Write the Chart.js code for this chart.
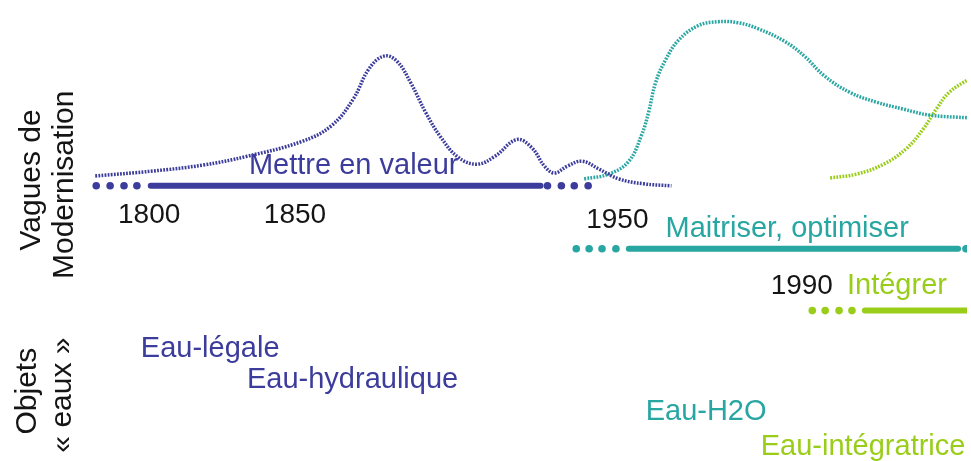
<!DOCTYPE html>
<html>
<head>
<meta charset="utf-8">
<script src="https://cdn.jsdelivr.net/npm/chart.js"></script>
<style>
  body { margin: 0; background: #fff; }
  #wrap { width: 971px; height: 461px; }
</style>
</head>
<body>
<div id="wrap"><canvas id="myChart" width="971" height="461"></canvas></div>
<script>
// couleurs
const bleu = "#3c3c9c"
const turquoise = "#28a6a2"
const vert = "#9acd1a"

// vagues (courbes pointillées), x = position sur la frise, y = hauteur
const vagueBleueX = [92,150,200,245,300,330,352,368,383,396,410,425,440,458,477,495,517,532,545,555,568,583,600,620,645,673]
const vagueBleueY = [175,170,164,155,140,124,97,66,53,58,80,110,135,156,163,155,138,146,165,172,165,160,168,178,183,185]

const vagueTurquoiseX = [585,610,630,643,650,657,667,680,700,720,740,760,787,807,827,853,880,907,933,975]
const vagueTurquoiseY = [178,173,160,133,110,80,57,37,22,18,19,25,38,53,73,90,100,107,113,116]

const vagueVerteX = [833,860,887,910,927,940,953,975]
const vagueVerteY = [177,173,163,147,127,107,90,75]

// périodes (traits pleins + points d'amorce)
const periodeBleue = { debut: 148, fin: 541, y: 185, points: [93,107,121,134,548,562,575,589] }
const periodeTurquoise = { debut: 630, fin: 962, y: 249, points: [577,590,603,617,970] }
const periodeVerte = { debut: 868, fin: 980, y: 312, points: [815,828,842,855] }

// textes
const annees = ["1800", "1850", "1950", "1990"]
const anneesX = [115, 262, 587, 773]
const anneesY = [223, 223, 228, 295]

const vagues = ["Mettre en valeur", "Maitriser, optimiser", "Intégrer"]
const vaguesX = [247, 667, 850]
const vaguesY = [173, 237, 295]

const objets = ["Eau-légale", "Eau-hydraulique", "Eau-H2O", "Eau-intégratrice"]
const objetsX = [138, 245, 647, 763]
const objetsY = [359, 391, 423, 459]

const titres = ["Vagues de", "Modernisation", "Objets", "« eaux »"]
const titresX = [36, 70, 32, 68]
const titresY = [179, 184, 394, 398]

function pts(xs, ys) {
    return xs.map((x, i) => ({ x: x, y: ys[i] }))
}

function courbe(xs, ys, color) {
    return {
        data: pts(xs, ys),
        borderColor: color,
        borderWidth: 3.5,
        borderDash: [1.8, 1.3],
        tension: 0.4,
        pointRadius: 0,
        fill: false
    }
}

function trait(p, color) {
    return {
        data: [{ x: p.debut, y: p.y }, { x: p.fin, y: p.y }],
        borderColor: color,
        borderWidth: 6,
        borderCapStyle: "round",
        pointRadius: 0,
        fill: false
    }
}

function amorce(p, color) {
    return {
        data: p.points.map(x => ({ x: x, y: p.y })),
        showLine: false,
        pointRadius: 3.8,
        pointBorderWidth: 0,
        pointBackgroundColor: color,
        borderColor: color
    }
}

const textes = {
    id: "textes",
    afterDatasetsDraw(chart) {
        const ctx = chart.ctx
        const sx = chart.scales.x
        const sy = chart.scales.y
        ctx.save()
        ctx.textBaseline = "alphabetic"
        ctx.textAlign = "left"

        ctx.font = "28px 'Liberation Sans', Arial, sans-serif"
        ctx.fillStyle = "#151515"
        annees.forEach((t, i) => ctx.fillText(t, sx.getPixelForValue(anneesX[i]), sy.getPixelForValue(anneesY[i])))

        ctx.font = "29px 'Liberation Sans', Arial, sans-serif"
        const coulVagues = [bleu, turquoise, vert]
        vagues.forEach((t, i) => {
            ctx.fillStyle = coulVagues[i]
            ctx.fillText(t, sx.getPixelForValue(vaguesX[i]), sy.getPixelForValue(vaguesY[i]))
        })

        const coulObjets = [bleu, bleu, turquoise, vert]
        objets.forEach((t, i) => {
            ctx.fillStyle = coulObjets[i]
            ctx.fillText(t, sx.getPixelForValue(objetsX[i]), sy.getPixelForValue(objetsY[i]))
        })

        ctx.font = "30px 'Liberation Sans', Arial, sans-serif"
        ctx.fillStyle = "#151515"
        ctx.textAlign = "center"
        titres.forEach((t, i) => {
            ctx.save()
            ctx.translate(sx.getPixelForValue(titresX[i]), sy.getPixelForValue(titresY[i]))
            ctx.rotate(-Math.PI / 2)
            ctx.fillText(t, 0, 0)
            ctx.restore()
        })
        ctx.restore()
    }
}

const ctx = document.getElementById("myChart").getContext("2d")
window.myChart = new Chart(ctx, {
    type: "line",
    data: {
        datasets: [
            trait(periodeBleue, bleu),
            amorce(periodeBleue, bleu),
            trait(periodeTurquoise, turquoise),
            amorce(periodeTurquoise, turquoise),
            trait(periodeVerte, vert),
            amorce(periodeVerte, vert),
            courbe(vagueBleueX, vagueBleueY, bleu),
            courbe(vagueTurquoiseX, vagueTurquoiseY, turquoise),
            courbe(vagueVerteX, vagueVerteY, vert)
        ]
    },
    options: {
        responsive: false,
        animation: false,
        layout: { padding: 0 },
        plugins: { legend: { display: false }, tooltip: { enabled: false } },
        scales: {
            x: { type: "linear", min: 0, max: 971, display: false },
            y: { type: "linear", min: 0, max: 461, reverse: true, display: false }
        }
    },
    plugins: [textes]
})
</script>
</body>
</html>
